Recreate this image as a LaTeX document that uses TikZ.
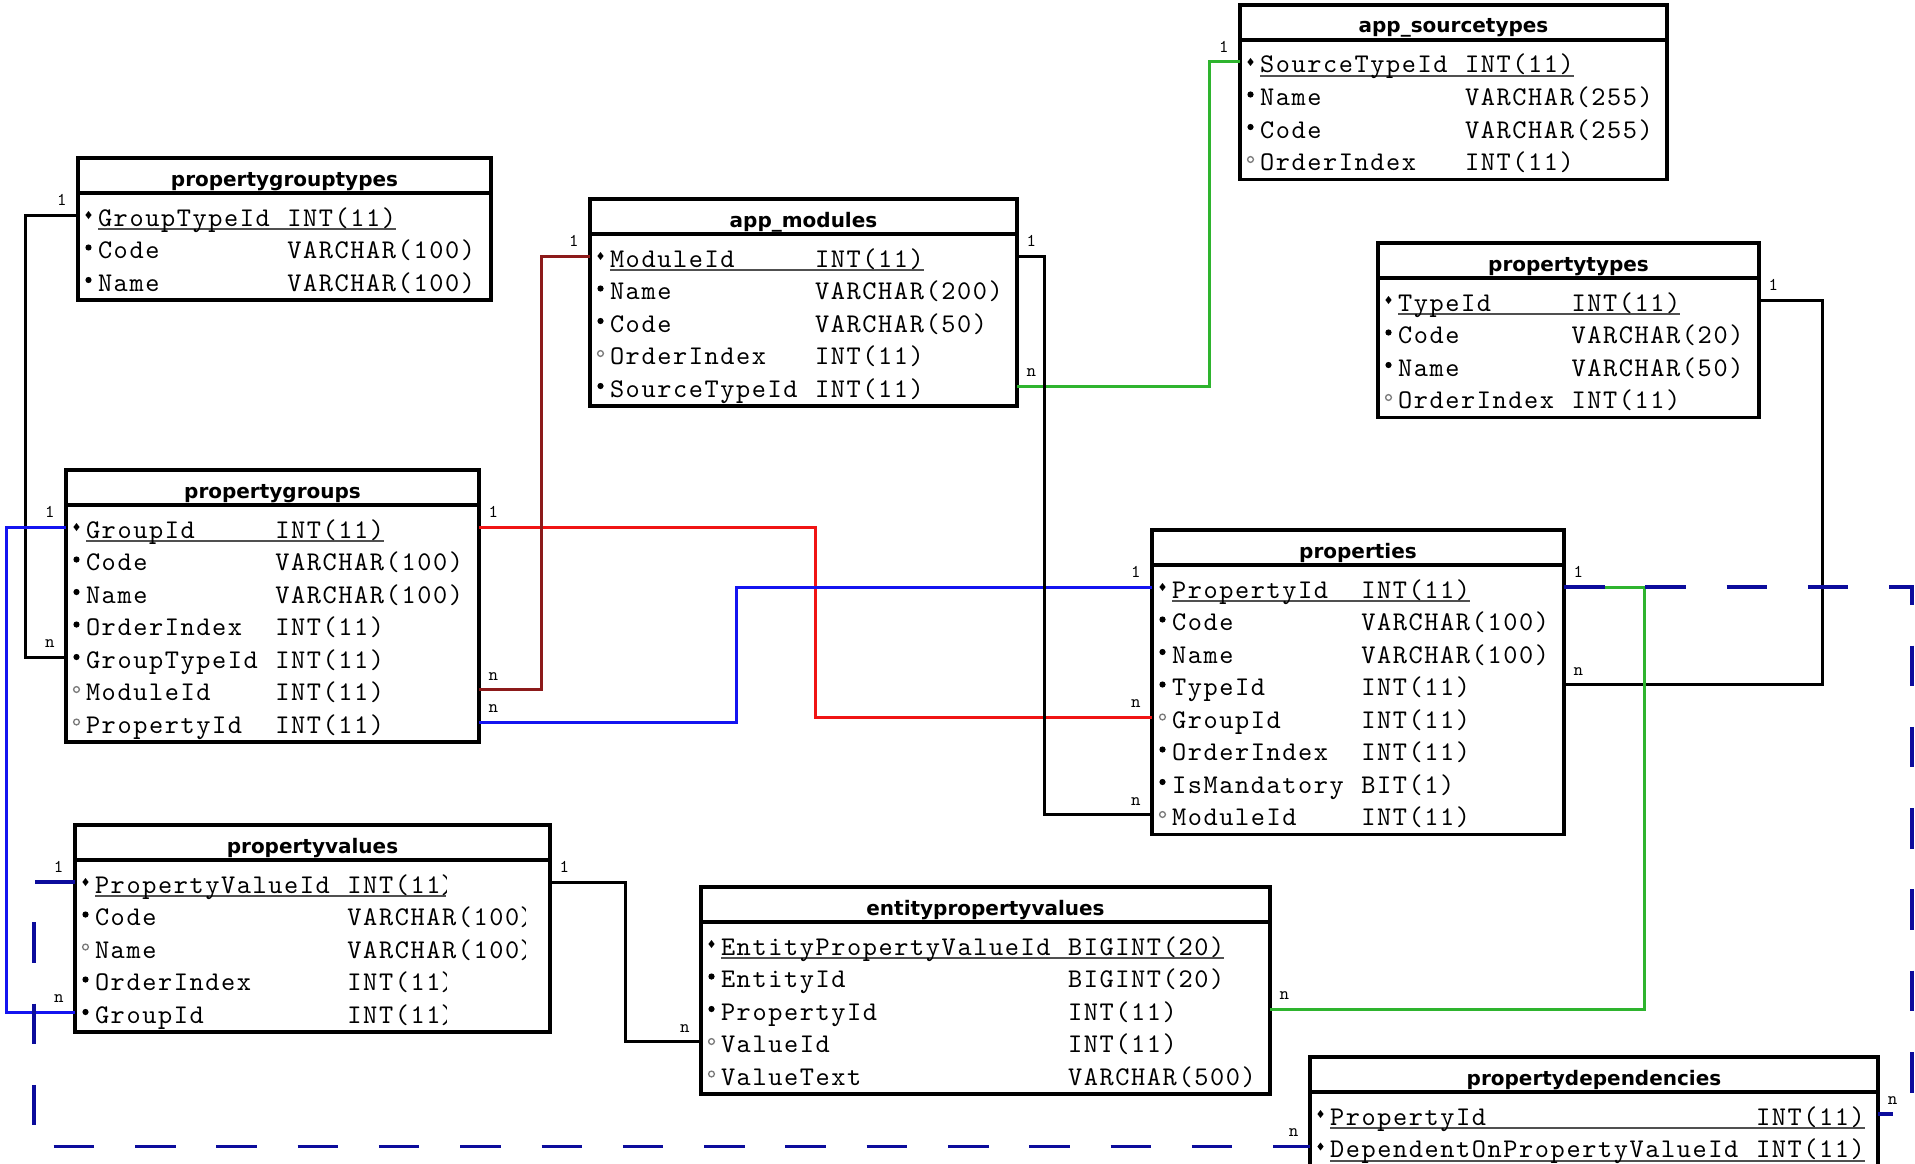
\documentclass[tikz,border=0pt]{standalone}
\usepackage{fontspec}
\usepackage{tikz}
\usetikzlibrary{positioning,calc}
\newfontfamily\fldfont{lmmono10-regular}[Extension=.otf,LetterSpace=5.9]
\newfontfamily\ttlfont{DejaVu Sans}
\definecolor{lnblue}{HTML}{1414F0}
\definecolor{lnred}{HTML}{F01414}
\definecolor{lndkred}{HTML}{8C1A1A}
\definecolor{lngreen}{HTML}{2EB42E}
\definecolor{lnnavy}{HTML}{0C0C9C}
\definecolor{ulgrey}{HTML}{505050}
\definecolor{nullgrey}{HTML}{7A7A7A}

% one character of the field font
\newlength\fcw
\setlength\fcw{15.78pt}

% field markers: key, not null, null
\newcommand\mkpk{\makebox[14pt][l]{\tikz[baseline=0pt]{\path (0pt,0pt);
  \fill (4.5pt,7pt) -- (7.6pt,11pt) -- (4.5pt,15pt) -- (1.4pt,11pt) -- cycle;}}}
\newcommand\mknn{\makebox[14pt][l]{\tikz[baseline=0pt]{\path (0pt,0pt);
  \fill (4.5pt,11pt) circle (3.1pt);}}}
\newcommand\mknul{\makebox[14pt][l]{\tikz[baseline=0pt]{\path (0pt,0pt);
  \draw[nullgrey,line width=1.3pt] (4.5pt,11pt) circle (2.9pt);}}}

% name column + type
\newcommand\fcell[3]{\makebox[#1\fcw][l]{#2}#3}
\newcommand\ulpk[1]{\setbox0\hbox{#1}\rlap{\color{ulgrey}\rule[-4pt]{\wd0}{1.8pt}}\box0}
\newcommand\fpk[3]{\mkpk\ulpk{\fcell{#1}{#2}{#3}}}
\newcommand\fnn[3]{\mknn\fcell{#1}{#2}{#3}}
\newcommand\fnul[3]{\mknul\fcell{#1}{#2}{#3}}

% closing paren cut by the cell edge
\newcommand\halfparen{\tikz[baseline=0pt]{\clip (0pt,-7pt) rectangle (0.22em,22pt);
  \node[overlay,anchor=base west,inner sep=0pt,outer sep=0pt,minimum size=0pt,
        text width=,text height=,text depth=,draw=none,fill=none] at (0pt,0pt) {)};}}

\begin{document}
\begin{tikzpicture}[x=1pt,y=-1pt,
  ttl/.style={draw,line width=3.5pt,inner sep=0pt,outer sep=0pt,minimum height=35pt,
              font=\ttlfont\bfseries\fontsize{20}{24}\selectfont,text height=21pt,text depth=0pt},
  fld/.style={text width=#1,inner xsep=6pt,inner ysep=0pt,outer sep=0pt,minimum height=32.5pt,
              text height=24pt,text depth=2pt,align=left,font=\fldfont\fontsize{27}{30}\selectfont},
  tblframe/.style={line width=3.5pt},
  conn/.style={line width=3pt},
  dsh/.style={draw=lnnavy,line width=3.6pt,dash pattern=on 40.5pt off 40.8pt},
  cl/.style={above left=8pt and 10pt,inner sep=0pt,text=black,font=\fldfont\fontsize{18}{18}\selectfont},
  cr/.style={above right=8pt and 8pt,inner sep=0pt,text=black,font=\fldfont\fontsize{18}{18}\selectfont}]

\path[use as bounding box,fill=white] (0,0) rectangle (1915,1164);

% propertygrouptypes
\node[ttl,minimum width=413pt] (pgt) at (284.5,175.5) {propertygrouptypes};
\node[fld=401pt,below=5.75pt of pgt] (pgt1) {\fpk{12}{GroupTypeId}{INT(11)}};
\node[fld=401pt,below=0pt of pgt1] (pgt2) {\fnn{12}{Code}{VARCHAR(100)}};
\node[fld=401pt,below=0pt of pgt2] (pgt3) {\fnn{12}{Name}{VARCHAR(100)}};
\draw[tblframe] (pgt.south west) rectangle ($(pgt3.south east)+(0,3.5)$);

% app_modules
\node[ttl,minimum width=427pt] (am) at (803.5,216.5) {app\_modules};
\node[fld=415pt,below=5.75pt of am] (am1) {\fpk{13}{ModuleId}{INT(11)}};
\node[fld=415pt,below=0pt of am1] (am2) {\fnn{13}{Name}{VARCHAR(200)}};
\node[fld=415pt,below=0pt of am2] (am3) {\fnn{13}{Code}{VARCHAR(50)}};
\node[fld=415pt,below=0pt of am3] (am4) {\fnul{13}{OrderIndex}{INT(11)}};
\node[fld=415pt,below=0pt of am4] (am5) {\fnn{13}{SourceTypeId}{INT(11)}};
\draw[tblframe] (am.south west) rectangle ($(am5.south east)+(0,3.5)$);

% app_sourcetypes
\node[ttl,minimum width=427pt] (ast) at (1453.5,22.5) {app\_sourcetypes};
\node[fld=415pt,below=5.75pt of ast] (ast1) {\fpk{13}{SourceTypeId}{INT(11)}};
\node[fld=415pt,below=0pt of ast1] (ast2) {\fnn{13}{Name}{VARCHAR(255)}};
\node[fld=415pt,below=0pt of ast2] (ast3) {\fnn{13}{Code}{VARCHAR(255)}};
\node[fld=415pt,below=0pt of ast3] (ast4) {\fnul{13}{OrderIndex}{INT(11)}};
\draw[tblframe] (ast.south west) rectangle ($(ast4.south east)+(0,3.5)$);

% propertytypes
\node[ttl,minimum width=381pt] (pt) at (1568.5,260.5) {propertytypes};
\node[fld=369pt,below=5.75pt of pt] (pt1) {\fpk{11}{TypeId}{INT(11)}};
\node[fld=369pt,below=0pt of pt1] (pt2) {\fnn{11}{Code}{VARCHAR(20)}};
\node[fld=369pt,below=0pt of pt2] (pt3) {\fnn{11}{Name}{VARCHAR(50)}};
\node[fld=369pt,below=0pt of pt3] (pt4) {\fnul{11}{OrderIndex}{INT(11)}};
\draw[tblframe] (pt.south west) rectangle ($(pt4.south east)+(0,3.5)$);

% propertygroups
\node[ttl,minimum width=413pt] (pg) at (272.5,487.5) {propertygroups};
\node[fld=401pt,below=5.75pt of pg] (pg1) {\fpk{12}{GroupId}{INT(11)}};
\node[fld=401pt,below=0pt of pg1] (pg2) {\fnn{12}{Code}{VARCHAR(100)}};
\node[fld=401pt,below=0pt of pg2] (pg3) {\fnn{12}{Name}{VARCHAR(100)}};
\node[fld=401pt,below=0pt of pg3] (pg4) {\fnn{12}{OrderIndex}{INT(11)}};
\node[fld=401pt,below=0pt of pg4] (pg5) {\fnn{12}{GroupTypeId}{INT(11)}};
\node[fld=401pt,below=0pt of pg5] (pg6) {\fnul{12}{ModuleId}{INT(11)}};
\node[fld=401pt,below=0pt of pg6] (pg7) {\fnul{12}{PropertyId}{INT(11)}};
\draw[tblframe] (pg.south west) rectangle ($(pg7.south east)+(0,3.5)$);

% properties
\node[ttl,minimum width=412pt] (pr) at (1358,547.5) {properties};
\node[fld=400pt,below=5.75pt of pr] (pr1) {\fpk{12}{PropertyId}{INT(11)}};
\node[fld=400pt,below=0pt of pr1] (pr2) {\fnn{12}{Code}{VARCHAR(100)}};
\node[fld=400pt,below=0pt of pr2] (pr3) {\fnn{12}{Name}{VARCHAR(100)}};
\node[fld=400pt,below=0pt of pr3] (pr4) {\fnn{12}{TypeId}{INT(11)}};
\node[fld=400pt,below=0pt of pr4] (pr5) {\fnul{12}{GroupId}{INT(11)}};
\node[fld=400pt,below=0pt of pr5] (pr6) {\fnn{12}{OrderIndex}{INT(11)}};
\node[fld=400pt,below=0pt of pr6] (pr7) {\fnn{12}{IsMandatory}{BIT(1)}};
\node[fld=400pt,below=0pt of pr7] (pr8) {\fnul{12}{ModuleId}{INT(11)}};
\draw[tblframe] (pr.south west) rectangle ($(pr8.south east)+(0,3.5)$);

% propertyvalues
\node[ttl,minimum width=475pt] (pv) at (312.5,842.5) {propertyvalues};
\node[fld=463pt,below=5.75pt of pv] (pv1) {\fpk{16}{PropertyValueId}{INT(11\halfparen}};
\node[fld=463pt,below=0pt of pv1] (pv2) {\fnn{16}{Code}{VARCHAR(100\halfparen}};
\node[fld=463pt,below=0pt of pv2] (pv3) {\fnul{16}{Name}{VARCHAR(100\halfparen}};
\node[fld=463pt,below=0pt of pv3] (pv4) {\fnn{16}{OrderIndex}{INT(11\halfparen}};
\node[fld=463pt,below=0pt of pv4] (pv5) {\fnn{16}{GroupId}{INT(11\halfparen}};
\draw[tblframe] (pv.south west) rectangle ($(pv5.south east)+(0,3.5)$);

% entitypropertyvalues
\node[ttl,minimum width=569pt] (epv) at (985.5,904.5) {entitypropertyvalues};
\node[fld=557pt,below=5.75pt of epv] (epv1) {\fpk{22}{EntityPropertyValueId}{BIGINT(20)}};
\node[fld=557pt,below=0pt of epv1] (epv2) {\fnn{22}{EntityId}{BIGINT(20)}};
\node[fld=557pt,below=0pt of epv2] (epv3) {\fnn{22}{PropertyId}{INT(11)}};
\node[fld=557pt,below=0pt of epv3] (epv4) {\fnul{22}{ValueId}{INT(11)}};
\node[fld=557pt,below=0pt of epv4] (epv5) {\fnul{22}{ValueText}{VARCHAR(500)}};
\draw[tblframe] (epv.south west) rectangle ($(epv5.south east)+(0,3.5)$);

% propertydependencies
\node[ttl,minimum width=568pt] (pd) at (1594,1074.5) {propertydependencies};
\node[fld=556pt,below=5.75pt of pd] (pd1) {\fpk{27}{PropertyId}{INT(11)}};
\node[fld=556pt,below=0pt of pd1] (pd2) {\fpk{27}{DependentOnPropertyValueId}{INT(11)}};
\draw[tblframe] (pd.south west) rectangle ($(pd2.south east)+(0,3.5)$);

% relations
\draw[conn] (pgt1.west) node[cl]{1} -- ++(-52.4,0) |- (pg5.west) node[cl]{n};
\draw[conn,draw=lnblue] (pg1.west) node[cl]{1} -- ++(-60,0) |- (pv5.west) node[cl]{n};
\draw[conn,draw=lnred] (pg1.east) node[cr]{1} -- ++(336,0) |- (pr5.west) node[cl]{n};
\draw[conn,draw=lndkred] (am1.west) node[cl]{1} -- ++(-49,0) |- (pg6.east) node[cr]{n};
\draw[conn,draw=lnblue] (pr1.west) node[cl]{1} -- ++(-415.5,0) |- (pg7.east) node[cr]{n};
\draw[conn,draw=lngreen] (ast1.west) node[cl]{1} -- ++(-31,0) |- (am5.east) node[cr]{n};
\draw[conn] (am1.east) node[cr]{1} -- ++(27,0) |- (pr8.west) node[cl]{n};
\draw[conn] (pt1.east) node[cr]{1} -- ++(63,0) |- (pr4.east) node[cr]{n};
\draw[conn,draw=lngreen] (pr1.east) node[cr]{1} -- ++(80,0) |- (epv3.east) node[cr]{n};
\draw[dsh] (pr1.east) -- ++(348,0) |- (pd1.east) node[cr]{n};
\draw[conn] (pv1.east) node[cr]{1} -- ++(75,0) |- (epv4.west) node[cl]{n};
\draw[dsh] (pv1.west) node[cl]{1} -- ++(-41,0) |- (pd2.west) node[cl]{n};
\end{tikzpicture}
\end{document}
